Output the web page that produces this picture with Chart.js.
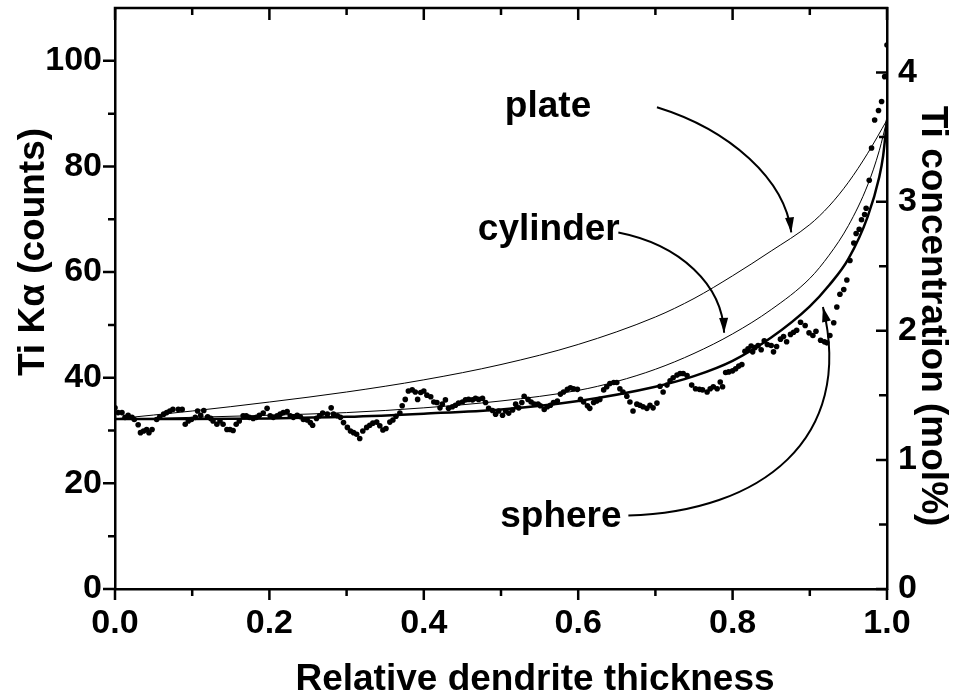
<!DOCTYPE html>
<html>
<head>
<meta charset="utf-8">
<script src="https://cdn.jsdelivr.net/npm/chart.js@4.4.0/dist/chart.umd.min.js"></script>
<style>
  html, body { margin: 0; padding: 0; background: #fff; }
</style>
</head>
<body>
<canvas id="myChart" width="955" height="700"></canvas>
<script>
// Measured Ti K-alpha counts (dots)
const dotX = [
  0.000, 0.004, 0.009, 0.013, 0.017, 0.022, 0.025, 0.030, 0.033, 0.037,
  0.041, 0.044, 0.048, 0.054, 0.058, 0.063, 0.067, 0.071, 0.075, 0.082,
  0.087, 0.091, 0.095, 0.099, 0.104, 0.107, 0.111, 0.115, 0.120, 0.124,
  0.127, 0.132, 0.136, 0.140, 0.145, 0.149, 0.153, 0.157, 0.161, 0.166,
  0.170, 0.174, 0.179, 0.183, 0.187, 0.192, 0.197, 0.201, 0.205, 0.210,
  0.214, 0.218, 0.223, 0.227, 0.231, 0.236, 0.240, 0.244, 0.249, 0.253,
  0.256, 0.261, 0.265, 0.269, 0.275, 0.280, 0.283, 0.288, 0.292, 0.296,
  0.301, 0.305, 0.309, 0.313, 0.317, 0.321, 0.326, 0.330, 0.334, 0.339,
  0.343, 0.347, 0.351, 0.356, 0.360, 0.364, 0.369, 0.372, 0.376, 0.380,
  0.385, 0.389, 0.392, 0.396, 0.400, 0.404, 0.409, 0.413, 0.417, 0.421,
  0.424, 0.428, 0.432, 0.437, 0.441, 0.445, 0.450, 0.454, 0.458, 0.463,
  0.467, 0.471, 0.476, 0.480, 0.484, 0.489, 0.493, 0.497, 0.502, 0.506,
  0.510, 0.515, 0.519, 0.523, 0.527, 0.530, 0.535, 0.539, 0.543, 0.548,
  0.551, 0.556, 0.560, 0.564, 0.568, 0.573, 0.577, 0.581, 0.586, 0.590,
  0.594, 0.599, 0.603, 0.607, 0.612, 0.615, 0.620, 0.624, 0.628, 0.633,
  0.637, 0.641, 0.646, 0.650, 0.654, 0.658, 0.663, 0.667, 0.671, 0.676,
  0.680, 0.684, 0.689, 0.693, 0.697, 0.702, 0.706, 0.710, 0.715, 0.719,
  0.723, 0.728, 0.732, 0.736, 0.741, 0.747, 0.752, 0.757, 0.761, 0.767,
  0.771, 0.775, 0.780, 0.784, 0.787, 0.791, 0.795, 0.800, 0.804, 0.808,
  0.812, 0.816, 0.820, 0.824, 0.826, 0.829, 0.833, 0.837, 0.841, 0.845,
  0.850, 0.853, 0.857, 0.862, 0.866, 0.870, 0.875, 0.879, 0.883, 0.888,
  0.894, 0.899, 0.904, 0.908, 0.914, 0.919, 0.922, 0.926, 0.931, 0.935,
  0.939, 0.944, 0.948, 0.952, 0.957, 0.960, 0.964, 0.967, 0.971, 0.973,
  0.977, 0.980, 0.984, 0.989, 0.993, 0.997, 1.000
];
const dotY = [
  34.3, 33.4, 33.4, 32.5, 32.9, 32.5, 32.1, 31.1, 29.6, 29.9,
  30.2, 29.6, 30.2, 32.1, 32.6, 33.1, 33.4, 33.7, 34.0, 34.0,
  34.0, 31.2, 31.8, 32.1, 32.5, 33.7, 32.9, 33.8, 32.6, 32.3,
  31.8, 31.2, 31.8, 31.2, 30.2, 30.2, 30.0, 31.2, 31.8, 32.8,
  32.8, 32.5, 32.3, 32.5, 32.9, 33.3, 34.2, 32.8, 32.5, 32.8,
  33.1, 33.4, 33.6, 32.8, 32.5, 32.9, 32.6, 32.1, 32.0, 31.5,
  31.0, 32.3, 32.8, 33.3, 33.1, 34.3, 33.1, 32.8, 32.5, 31.5,
  30.6, 29.9, 29.6, 29.3, 28.5, 29.9, 30.6, 31.0, 31.4, 31.6,
  30.9, 30.1, 30.4, 31.6, 32.0, 32.7, 33.3, 34.7, 35.9, 37.5,
  37.7, 37.3, 35.9, 37.2, 37.5, 36.7, 36.4, 35.4, 35.3, 34.3,
  35.0, 35.8, 34.2, 34.5, 34.8, 35.2, 35.4, 35.8, 35.9, 35.8,
  36.1, 35.9, 36.1, 35.3, 34.2, 33.8, 33.1, 33.7, 32.9, 33.7,
  33.3, 33.9, 35.0, 34.3, 35.3, 36.5, 35.9, 35.4, 35.0, 35.0,
  34.7, 34.0, 34.5, 34.8, 35.3, 35.6, 36.9, 37.3, 37.8, 38.1,
  37.9, 37.8, 35.9, 35.4, 34.7, 34.2, 35.3, 35.6, 35.9, 37.7,
  38.3, 38.9, 39.1, 39.1, 37.9, 37.3, 36.5, 35.4, 33.7, 35.0,
  34.8, 34.5, 34.2, 34.8, 34.3, 35.2, 38.4, 37.3, 38.6, 39.4,
  40.0, 40.5, 40.8, 40.8, 40.4, 38.6, 37.9, 37.8, 37.7, 37.3,
  37.9, 38.3, 37.9, 39.2, 38.3, 41.0, 41.1, 41.3, 41.7, 42.2,
  42.5, 45.0, 45.5, 46.0, 44.9, 45.7, 46.1, 45.3, 47.0, 46.3,
  46.1, 44.9, 45.9, 47.3, 47.8, 46.8, 48.2, 48.6, 49.0, 50.5,
  49.9, 48.5, 48.0, 48.8, 47.1, 46.8, 46.6, 48.0, 50.4, 53.4,
  55.8, 56.7, 58.5, 62.2, 65.5, 67.3, 68.1, 69.9, 70.9, 72.1,
  77.4, 83.5, 88.8, 90.6, 92.3, 97.0, 103.0
];

// Model curves (counts)
const plateX = [0, 0.1, 0.2, 0.3, 0.4, 0.5, 0.6, 0.7, 0.75, 0.8, 0.85, 0.9, 0.925, 0.95, 0.975, 1.0];
const plateY = [32.2, 33.7, 35.4, 37.3, 39.6, 42.5, 46.3, 51.5, 55.0, 59.3, 64.0, 69.0, 72.5, 77.0, 82.5, 88.8];
const cylX = [0, 0.05, 0.1, 0.2, 0.3, 0.4, 0.5, 0.6, 0.65, 0.7, 0.75, 0.8, 0.85, 0.9, 0.925, 0.95, 0.975, 0.99, 1.0];
const cylY = [32.2, 32.3, 32.5, 32.9, 33.4, 34.3, 35.6, 37.6, 39.3, 41.6, 44.6, 48.3, 52.9, 58.8, 63.2, 68.8, 76.5, 83.0, 88.8];
const sphX = [0, 0.1, 0.2, 0.3, 0.4, 0.5, 0.6, 0.7, 0.75, 0.8, 0.85, 0.9, 0.925, 0.95, 0.975, 0.99, 0.995, 1.0];
const sphY = [32.2, 32.2, 32.3, 32.6, 33.2, 34.0, 35.6, 38.3, 40.3, 43.2, 47.6, 53.5, 57.5, 62.5, 70.5, 78.0, 82.0, 88.8];

// Tick labels
const xTicks = [0, 0.2, 0.4, 0.6, 0.8, 1.0];
const yTicks = [0, 20, 40, 60, 80, 100];
const y1Ticks = [0, 1, 2, 3, 4];

// Annotation labels and arrows (data units)
const labels = [
  { text: 'plate', x: 0.505, y: 89.4 },
  { text: 'cylinder', x: 0.470, y: 66.1 },
  { text: 'sphere', x: 0.499, y: 11.8 }
];
const arrows = [
  [[0.702, 91.2], [0.797, 86.9], [0.868, 77.5], [0.876, 67.5]],
  [[0.652, 67.5], [0.732, 65.2], [0.787, 57.6], [0.789, 48.5]],
  [[0.665, 13.9], [0.836, 14.6], [0.959, 28.3], [0.917, 53.4]]
];

const toPts = (xs, ys) => xs.map((v, i) => ({ x: v, y: ys[i] }));
const bold = (s) => ({ family: 'Liberation Sans, Arial, sans-serif', size: s, weight: 'bold' });

const frameTicks = {
  id: 'frameTicks',
  afterDraw(chart) {
    const { ctx, chartArea: a, scales: { x, y, y1 } } = chart;
    ctx.save();
    ctx.strokeStyle = '#000';
    ctx.lineWidth = 2.5;
    ctx.beginPath();
    ctx.moveTo(a.left - 1.25, a.top);
    ctx.lineTo(a.right + 1.25, a.top);
    for (let i = 0; i <= 10; i++) {
      const px = x.getPixelForValue(i / 10);
      const big = i % 2 === 0;
      ctx.moveTo(px, a.bottom);
      ctx.lineTo(px, a.bottom + (big ? 11 : 7));
      ctx.moveTo(px, a.top);
      ctx.lineTo(px, a.top + (big ? 12 : 7));
    }
    for (let v = 0; v <= 100; v += 10) {
      const py = y.getPixelForValue(v);
      ctx.moveTo(a.left, py);
      ctx.lineTo(a.left - (v % 20 === 0 ? 12 : 7), py);
    }
    for (let i = 0; i <= 9; i++) {
      const py = y1.getPixelForValue(i / 2);
      ctx.moveTo(a.right, py);
      ctx.lineTo(a.right - (i % 2 === 0 ? 11 : 8), py);
    }
    ctx.stroke();

    // arrows
    ctx.lineWidth = 2;
    arrows.forEach(p => {
      const q = p.map(d => [x.getPixelForValue(d[0]), y.getPixelForValue(d[1])]);
      ctx.beginPath();
      ctx.moveTo(q[0][0], q[0][1]);
      ctx.bezierCurveTo(q[1][0], q[1][1], q[2][0], q[2][1], q[3][0], q[3][1]);
      ctx.stroke();
      const ang = Math.atan2(q[3][1] - q[2][1], q[3][0] - q[2][0]);
      const L = 15, W = 4.5;
      ctx.beginPath();
      ctx.moveTo(q[3][0], q[3][1]);
      ctx.lineTo(q[3][0] - L * Math.cos(ang) + W * Math.sin(ang), q[3][1] - L * Math.sin(ang) - W * Math.cos(ang));
      ctx.lineTo(q[3][0] - L * Math.cos(ang) - W * Math.sin(ang), q[3][1] - L * Math.sin(ang) + W * Math.cos(ang));
      ctx.closePath();
      ctx.fillStyle = '#000';
      ctx.fill();
    });

    // curve labels
    ctx.fillStyle = '#000';
    ctx.font = 'bold 37px "Liberation Sans", Arial, sans-serif';
    ctx.textBaseline = 'alphabetic';
    ctx.textAlign = 'left';
    labels.forEach(l => ctx.fillText(l.text, x.getPixelForValue(l.x), y.getPixelForValue(l.y)));

    // axis titles
    ctx.font = 'bold 37px "Liberation Sans", Arial, sans-serif';
    ctx.textAlign = 'center';
    ctx.fillText('Relative dendrite thickness', 535, 690);
    ctx.save();
    ctx.translate(44, 252);
    ctx.rotate(-Math.PI / 2);
    ctx.fillText('Ti Kα (counts)', 0, 0);
    ctx.restore();
    ctx.save();
    ctx.translate(922, 316);
    ctx.rotate(Math.PI / 2);
    ctx.fillText('Ti concentration (mol%)', 0, 0);
    ctx.restore();
    ctx.restore();
  }
};

const ctx = document.getElementById('myChart');

let myChart = new Chart(ctx, {
  type: 'scatter',
  data: {
    datasets: [
      {
        label: 'measured',
        data: toPts(dotX, dotY),
        backgroundColor: '#000',
        borderWidth: 0,
        pointRadius: 2.8
      },
      {
        label: 'plate',
        data: toPts(plateX, plateY),
        showLine: true,
        borderColor: '#000',
        borderWidth: 1,
        pointRadius: 0,
        cubicInterpolationMode: 'monotone'
      },
      {
        label: 'cylinder',
        data: toPts(cylX, cylY),
        showLine: true,
        borderColor: '#000',
        borderWidth: 1,
        pointRadius: 0,
        cubicInterpolationMode: 'monotone'
      },
      {
        label: 'sphere',
        data: toPts(sphX, sphY),
        showLine: true,
        borderColor: '#000',
        borderWidth: 2.5,
        pointRadius: 0,
        cubicInterpolationMode: 'monotone'
      }
    ]
  },
  options: {
    responsive: false,
    animation: false,
    layout: { padding: { top: 8, left: 0, right: 0, bottom: 0 } },
    plugins: { legend: { display: false }, tooltip: { enabled: false } },
    scales: {
      x: {
        type: 'linear',
        min: 0,
        max: 1,
        afterFit: (s) => { s.height = 111; s.paddingLeft = 0; s.paddingRight = 0; },
        afterBuildTicks: (s) => { s.ticks = xTicks.map(v => ({ value: v })); },
        grid: { display: false, drawTicks: false },
        border: { display: true, color: '#000', width: 2.5 },
        ticks: { color: '#000', font: bold(34), padding: 14, maxRotation: 0, callback: (v) => v.toFixed(1) }
      },
      y: {
        type: 'linear',
        position: 'left',
        min: 0,
        max: 110,
        afterFit: (s) => { s.width = 115; s.paddingTop = 0; s.paddingBottom = 0; },
        afterBuildTicks: (s) => { s.ticks = yTicks.map(v => ({ value: v })); },
        grid: { display: false, drawTicks: false },
        border: { display: true, color: '#000', width: 2.5 },
        ticks: { color: '#000', font: bold(34), padding: 13 }
      },
      y1: {
        type: 'linear',
        position: 'right',
        min: 0,
        max: 4.5,
        afterFit: (s) => { s.width = 68; s.paddingTop = 0; s.paddingBottom = 0; },
        afterBuildTicks: (s) => { s.ticks = y1Ticks.map(v => ({ value: v })); },
        grid: { display: false, drawTicks: false },
        border: { display: true, color: '#000', width: 2.5 },
        ticks: { color: '#000', font: bold(34), padding: 11 }
      }
    }
  },
  plugins: [frameTicks]
});
</script>
</body>
</html>
